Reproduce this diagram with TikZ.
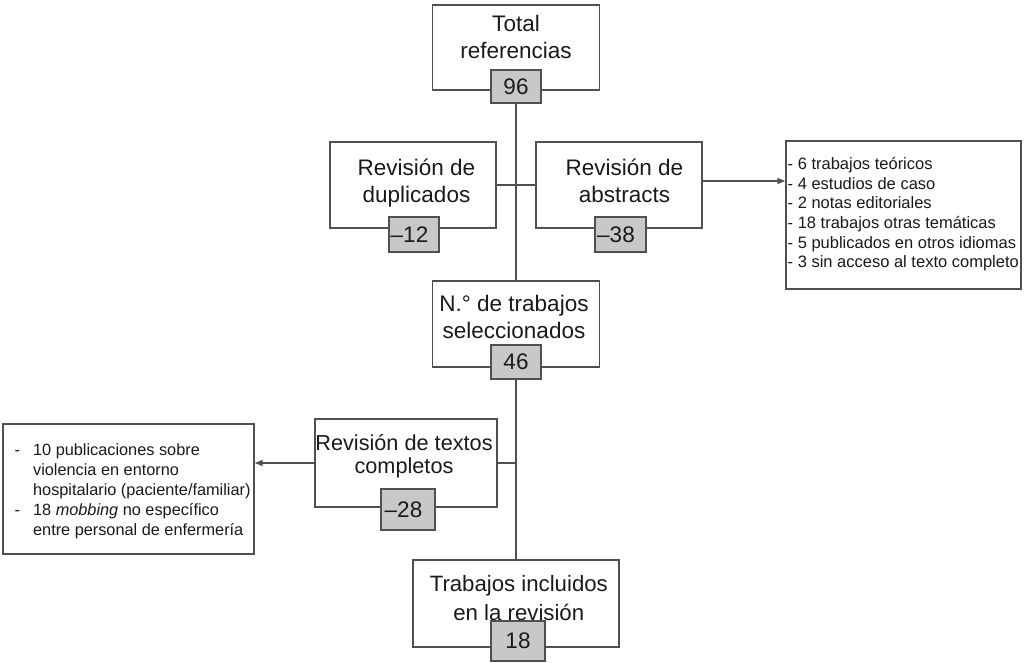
\documentclass[tikz,border=0pt]{standalone}
\usepackage{fontspec}
\setmainfont{Liberation Sans}
\usetikzlibrary{arrows.meta,backgrounds}
\definecolor{ln}{HTML}{505050}
\definecolor{gr}{HTML}{C8C8C8}
\definecolor{tx}{HTML}{1A1A1A}
\begin{document}
\begin{tikzpicture}[x=1pt,y=-1pt,
  box/.style={draw=ln, line width=1.4pt, fill=white, inner sep=0pt},
  num/.style={draw=ln, line width=1.4pt, fill=gr, inner sep=0pt, text=tx,
    font=\fontsize{22.5}{26.7}\selectfont},
  txt/.style={inner sep=0pt, text=tx, font=\fontsize{22.5}{26.7}\selectfont},
  lst/.style={inner sep=0pt, text=tx, anchor=north west},
  conn/.style={draw=ln, line width=1.4pt},
  arr/.style={conn, -{Triangle[length=8pt,width=6pt]}}]
\useasboundingbox (0,0) rectangle (1024,663);

% boxes
\node[box,minimum width=167pt,minimum height=85pt] (top) at (516,47.5) {};
\node[box,minimum width=166pt,minimum height=86pt] (dup) at (413,185) {};
\node[box,minimum width=166pt,minimum height=86pt] (abs) at (619,185) {};
\node[box,minimum width=167pt,minimum height=86pt] (sel) at (516,324) {};
\node[box,minimum width=182pt,minimum height=88pt] (textos) at (406,463) {};
\node[box,minimum width=206pt,minimum height=87pt] (incl) at (516,603.5) {};
\node[box,minimum width=235pt,minimum height=148pt] (rlist) at (903.5,215) {};
\node[box,minimum width=251pt,minimum height=130pt] (llist) at (128.5,489) {};

% number boxes
\node[num,minimum width=50pt,minimum height=33pt] (n96) at (516,86.5) {96};
\node[num,minimum width=50pt,minimum height=35pt] (n12) at (414,234.5) {--12\kern9pt};
\node[num,minimum width=51pt,minimum height=35pt] (n38) at (620.5,234.5) {--38\kern9pt};
\node[num,minimum width=50pt,minimum height=34pt] (n46) at (516,362) {46};
\node[num,minimum width=54pt,minimum height=41pt] (n28) at (408,509.5) {--28\kern9pt};
\node[num,minimum width=54pt,minimum height=40pt] (n18) at (518,641) {18};

% connectors, behind the boxes
\begin{scope}[on background layer]
\fill[white] (0,0) rectangle (1024,663);
\draw[conn] (n96.south) -- (sel.north);
\draw[conn] (dup.east) -- (abs.west);
\draw[arr] ([yshift=4pt]abs.east) -- ([yshift=4pt]abs.east -| rlist.west);
\draw[conn] (n46.south) -- (incl.north);
\draw[conn] (textos.east) -- (textos.east -| n46.south);
\draw[arr] (textos.west) -- (textos.west -| llist.east);
\end{scope}

% texts
\node[txt] (topT) at (516,39.5) {\begin{tabular}{@{}c@{}}Total\\referencias\end{tabular}};
\node[txt] (dupT) at (416.5,184) {\begin{tabular}{@{}c@{}}Revisión de\\duplicados\end{tabular}};
\node[txt] (absT) at (624.5,184) {\begin{tabular}{@{}c@{}}Revisión de\\abstracts\end{tabular}};
\node[txt] (selT) at (514,319.8) {\begin{tabular}{@{}c@{}}N.° de trabajos\\seleccionados\end{tabular}};
\node[txt,font=\fontsize{21.7}{22.6}\selectfont] (textosT) at (404,457.3) {\begin{tabular}{@{}c@{}}Revisión de textos\\completos\end{tabular}};
\node[txt,font=\fontsize{22.2}{28.3}\selectfont] (inclT) at (518.8,600.2) {\begin{tabular}{@{}c@{}}Trabajos incluidos\\en la revisión\end{tabular}};

\node[lst,font=\fontsize{16.5}{19.7}\selectfont] (rlistT) at (787.5,155.5) {\begin{tabular}{@{}l@{}}
- 6 trabajos teóricos\\
- 4 estudios de caso\\
- 2 notas editoriales\\
- 18 trabajos otras temáticas\\
- 5 publicados en otros idiomas\\
- 3 sin acceso al texto completo\end{tabular}};

\node[lst,font=\fontsize{16.3}{20}\selectfont] (llistT) at (14.5,441.6) {\begin{tabular}{@{}l@{\hspace{13pt}}l@{}}
- & 10 publicaciones sobre\\
 & violencia en entorno\\
 & hospitalario (paciente/familiar)\\
- & 18 \textit{mobbing} no específico\\
 & entre personal de enfermería\end{tabular}};
\end{tikzpicture}
\end{document}
